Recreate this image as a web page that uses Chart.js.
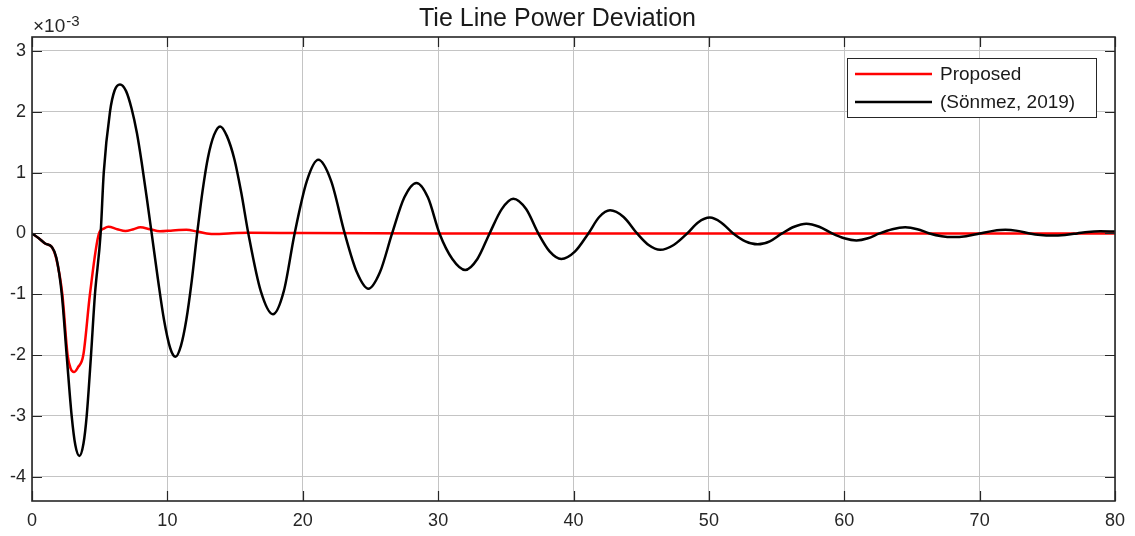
<!DOCTYPE html>
<html>
<head>
<meta charset="utf-8">
<script src="https://cdn.jsdelivr.net/npm/chart.js@4.4.1/dist/chart.umd.min.js"></script>
<style>
  html, body { margin: 0; padding: 0; background: #ffffff; }
  #wrap { width: 1135px; height: 536px; position: relative; }
</style>
</head>
<body>
<div id="wrap"><canvas id="c" width="1135" height="536"></canvas></div>
<script>
// ---- Data (values in units of 1e-3) ----
const chartTitle = "Tie Line Power Deviation";
const seriesLabels = ["Proposed", "(Sönmez, 2019)"];
const xTickLabels = [0, 10, 20, 30, 40, 50, 60, 70, 80];
const yTickLabels = [-4, -3, -2, -1, 0, 1, 2, 3];

const proposedTime = [0, 0.5, 1.0, 1.45, 1.8, 2.24, 2.63, 2.85, 3.1, 3.4, 3.79, 4.28, 4.95, 5.3, 5.64, 6.3, 6.9, 7.5, 8.0, 8.7, 9.45, 10.4, 11.4, 12.2, 12.9, 13.6, 14.5, 16, 20, 30, 40, 50, 60, 70, 80];
const proposedValue = [0, -0.08, -0.17, -0.22, -0.42, -1.0, -2.0, -2.22, -2.28, -2.2, -2.0, -1.0, 0, 0.08, 0.11, 0.07, 0.04, 0.07, 0.1, 0.07, 0.035, 0.05, 0.06, 0.03, 0.0, -0.01, 0.0, 0.01, 0.005, 0, 0, 0, 0, 0, 0];

const sonmezTime = [0, 0.5, 1.0, 1.45, 1.8, 2.2, 2.56, 2.93, 3.2, 3.5, 3.8, 4.04, 4.36, 4.65, 5.07, 5.3, 5.76, 6.1, 6.5, 6.95, 7.36, 7.75, 8.1, 8.5, 8.84, 9.3, 9.75, 10.2, 10.6, 11.0, 11.4, 11.8, 12.2, 12.6, 13.0, 13.45, 13.9, 14.4, 14.95, 15.45, 15.98, 16.9, 17.8, 18.6, 19.4, 20.3, 21.15, 22.1, 23.1, 24.0, 24.85, 25.7, 26.6, 27.5, 28.4, 29.25, 30.1, 31.05, 32.0, 32.9, 33.8, 34.7, 35.55, 36.5, 37.4, 38.25, 39.1, 40.1, 41.1, 41.9, 42.7, 43.7, 44.7, 45.55, 46.4, 47.4, 48.4, 49.2, 50.07, 50.9, 51.8, 52.7, 53.6, 54.5, 55.4, 56.3, 57.2, 58.15, 59.1, 60.0, 60.9, 61.75, 62.6, 63.55, 64.5, 65.4, 66.3, 67.2, 68.0, 69.0, 70.0, 71.0, 71.9, 72.8, 73.7, 74.5, 75.3, 76.3, 77.2, 78.0, 78.9, 80];
const sonmezValue = [0, -0.08, -0.17, -0.22, -0.4, -1.0, -2.0, -3.0, -3.48, -3.66, -3.46, -3.0, -2.0, -1.0, 0, 1.0, 2.0, 2.35, 2.45, 2.34, 2.05, 1.65, 1.17, 0.55, 0, -0.75, -1.42, -1.88, -2.03, -1.85, -1.42, -0.78, 0, 0.7, 1.25, 1.62, 1.76, 1.6, 1.22, 0.68, 0, -0.95, -1.33, -0.95, 0, 0.86, 1.21, 0.86, 0, -0.64, -0.91, -0.64, 0, 0.59, 0.83, 0.59, 0, -0.42, -0.6, -0.42, 0, 0.4, 0.57, 0.4, 0, -0.3, -0.42, -0.3, 0, 0.27, 0.38, 0.27, 0, -0.19, -0.27, -0.19, 0, 0.18, 0.26, 0.18, 0, -0.13, -0.18, -0.13, 0, 0.11, 0.16, 0.11, 0, -0.08, -0.115, -0.08, 0, 0.07, 0.1, 0.07, 0, -0.045, -0.06, -0.045, 0, 0.042, 0.06, 0.042, 0, -0.025, -0.035, -0.025, 0, 0.025, 0.035, 0.03];

const FONT = "'Liberation Sans', Arial, Helvetica, sans-serif";
const AXIS_COLOR = "#262626";

const toPts = (ts, vs) => ts.map((t, i) => ({ x: t, y: vs[i] }));

// Inward ticks, axis box, exponent label and legend
const decorPlugin = {
  id: 'decor',
  afterDatasetsDraw(chart) {
    const { ctx, chartArea: a, scales } = chart;
    ctx.save();
    ctx.strokeStyle = AXIS_COLOR;
    ctx.lineWidth = 1.2;
    const tl = 10;
    ctx.beginPath();
    xTickLabels.forEach(v => {
      const px = Math.round(scales.x.getPixelForValue(v)) + 0.5;
      ctx.moveTo(px, a.bottom); ctx.lineTo(px, a.bottom - tl);
      ctx.moveTo(px, a.top); ctx.lineTo(px, a.top + tl);
    });
    yTickLabels.forEach(v => {
      const py = Math.round(scales.y.getPixelForValue(v)) + 0.5;
      ctx.moveTo(a.left, py); ctx.lineTo(a.left + tl, py);
      ctx.moveTo(a.right, py); ctx.lineTo(a.right - tl, py);
    });
    ctx.stroke();
    ctx.lineWidth = 1.6;
    ctx.strokeRect(a.left, a.top, a.right - a.left, a.bottom - a.top);

    // exponent label
    ctx.fillStyle = AXIS_COLOR;
    ctx.textBaseline = 'alphabetic';
    ctx.textAlign = 'left';
    ctx.font = "19px " + FONT;
    const base = "\u00D710";
    ctx.fillText(base, a.left + 1, 32);
    const w = ctx.measureText(base).width;
    ctx.font = "15px " + FONT;
    ctx.fillText("-3", a.left + 1 + w + 1, 26);

    // legend
    const lx = a.right - 268, ly = a.top + 21, lw = 249, lh = 59;
    ctx.fillStyle = "#ffffff";
    ctx.fillRect(lx, ly, lw, lh);
    ctx.lineWidth = 1;
    ctx.strokeStyle = AXIS_COLOR;
    ctx.strokeRect(lx + 0.5, ly + 0.5, lw, lh);
    const colors = ["#ff0000", "#000000"];
    ctx.font = "19px " + FONT;
    ctx.textBaseline = 'middle';
    seriesLabels.forEach((lab, i) => {
      const yy = ly + 16 + i * 28;
      ctx.strokeStyle = colors[i];
      ctx.lineWidth = 2.5;
      ctx.beginPath(); ctx.moveTo(lx + 8, yy); ctx.lineTo(lx + 85, yy); ctx.stroke();
      ctx.fillStyle = "#1a1a1a";
      ctx.fillText(lab, lx + 93, yy + 1);
    });
    ctx.restore();
  }
};

new Chart(document.getElementById('c'), {
  type: 'line',
  data: {
    datasets: [
      {
        label: seriesLabels[0],
        data: toPts(proposedTime, proposedValue),
        borderColor: '#ff0000',
        borderWidth: 2.5,
        pointRadius: 0,
        cubicInterpolationMode: 'monotone',
        fill: false,
        order: 1
      },
      {
        label: seriesLabels[1],
        data: toPts(sonmezTime, sonmezValue),
        borderColor: '#000000',
        borderWidth: 2.5,
        pointRadius: 0,
        cubicInterpolationMode: 'monotone',
        fill: false,
        order: 0
      }
    ]
  },
  options: {
    responsive: false,
    animation: false,
    events: [],
    layout: { padding: { top: 0, right: 20, left: 0, bottom: 0 } },
    plugins: {
      legend: { display: false },
      tooltip: { enabled: false },
      title: {
        display: true,
        text: chartTitle,
        color: '#1a1a1a',
        font: { family: FONT, size: 25, weight: 'normal', lineHeight: 1.2 },
        padding: { top: 4, bottom: 3 }
      }
    },
    scales: {
      x: {
        type: 'linear',
        min: 0, max: 80,
        border: { display: false },
        grid: { color: '#c4c4c4', lineWidth: 1, drawTicks: false },
        afterBuildTicks: s => { s.ticks = xTickLabels.map(v => ({ value: v })); },
        afterFit: s => { s.height = 35; },
        ticks: {
          color: AXIS_COLOR, padding: 9, maxRotation: 0,
          font: { family: FONT, size: 18 }
        }
      },
      y: {
        type: 'linear',
        min: -4.4, max: 3.23,
        border: { display: false },
        grid: { color: '#c4c4c4', lineWidth: 1, drawTicks: false },
        afterBuildTicks: s => { s.ticks = yTickLabels.map(v => ({ value: v })); },
        afterFit: s => { s.width = 32; },
        ticks: {
          color: AXIS_COLOR, padding: 6,
          font: { family: FONT, size: 18 }
        }
      }
    }
  },
  plugins: [decorPlugin]
});
</script>
</body>
</html>
